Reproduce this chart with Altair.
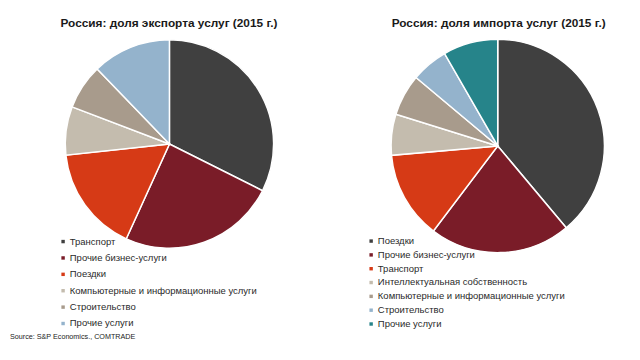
import altair as alt
import pandas as pd

export_title = "Россия: доля экспорта услуг (2015 г.)"
export_categories = ["Транспорт", "Прочие бизнес-услуги", "Поездки",
                     "Компьютерные и информационные услуги", "Строительство", "Прочие услуги"]
export_values = [32.4, 24.4, 16.5, 7.5, 7.0, 12.2]
export_colors = ["#404040", "#7a1c28", "#d63a16", "#c4bcae", "#a89b8c", "#94b3cc"]

import_title = "Россия: доля импорта услуг (2015 г.)"
import_categories = ["Поездки", "Прочие бизнес-услуги", "Транспорт",
                     "Интеллектуальная собственность", "Компьютерные и информационные услуги",
                     "Строительство", "Прочие услуги"]
import_values = [38.9, 21.4, 13.3, 6.2, 6.3, 5.6, 8.3]
import_colors = ["#404040", "#7a1c28", "#d63a16", "#c4bcae", "#a89b8c", "#94b3cc", "#26848a"]

source_text = "Source: S&P Economics., COMTRADE"

FONT = "Liberation Sans"

exp_df = pd.DataFrame({"cat": export_categories, "val": export_values,
                       "ord": list(range(len(export_values)))})
imp_df = pd.DataFrame({"cat": import_categories, "val": import_values,
                       "ord": list(range(len(import_values)))})


def pie(df, cats, colors, cx, cy, r, lx, ly, rowpad):
    return alt.Chart(df).mark_arc(stroke="white", strokeWidth=1.5).encode(
        theta=alt.Theta("val:Q", stack=True),
        order=alt.Order("ord:Q"),
        color=alt.Color("cat:N", sort=cats,
                        scale=alt.Scale(domain=cats, range=colors),
                        legend=alt.Legend(orient="none", legendX=lx, legendY=ly, title=None,
                                          symbolType="square", symbolSize=12,
                                          symbolStrokeWidth=0, labelFontSize=9.6,
                                          labelFont=FONT, labelColor="#2a2a2a",
                                          rowPadding=rowpad, labelOffset=2, padding=0,
                                          labelLimit=400)),
        x=alt.value(cx), y=alt.value(cy),
        radius=alt.value(r),
    )


def title(text, cx, cy):
    return alt.Chart(pd.DataFrame({"t": [text]})).mark_text(
        font=FONT, fontSize=12, fontWeight="bold", color="#1a1a1a",
        align="center", baseline="middle").encode(
        text="t:N", x=alt.value(cx), y=alt.value(cy))


left = pie(exp_df, export_categories, export_colors, 163.5, 135.5, 105.5, 51, 229.5, 5.6)
right = pie(imp_df, import_categories, import_colors, 496, 137.5, 108, 363, 229, 3.0)

src = alt.Chart(pd.DataFrame({"t": [source_text]})).mark_text(
    font=FONT, fontSize=7.3, color="#222", align="left",
    baseline="middle").encode(text="t:N", x=alt.value(2), y=alt.value(331))

chart = alt.layer(
    left, right,
    title(export_title, 163, 13),
    title(import_title, 497, 13),
    src,
).resolve_scale(color="independent", theta="independent").properties(
    width=632, height=352, padding=0, autosize="none"
).configure_view(stroke=None)

chart.save("out.html", embed_options={"renderer": "svg", "actions": False})
